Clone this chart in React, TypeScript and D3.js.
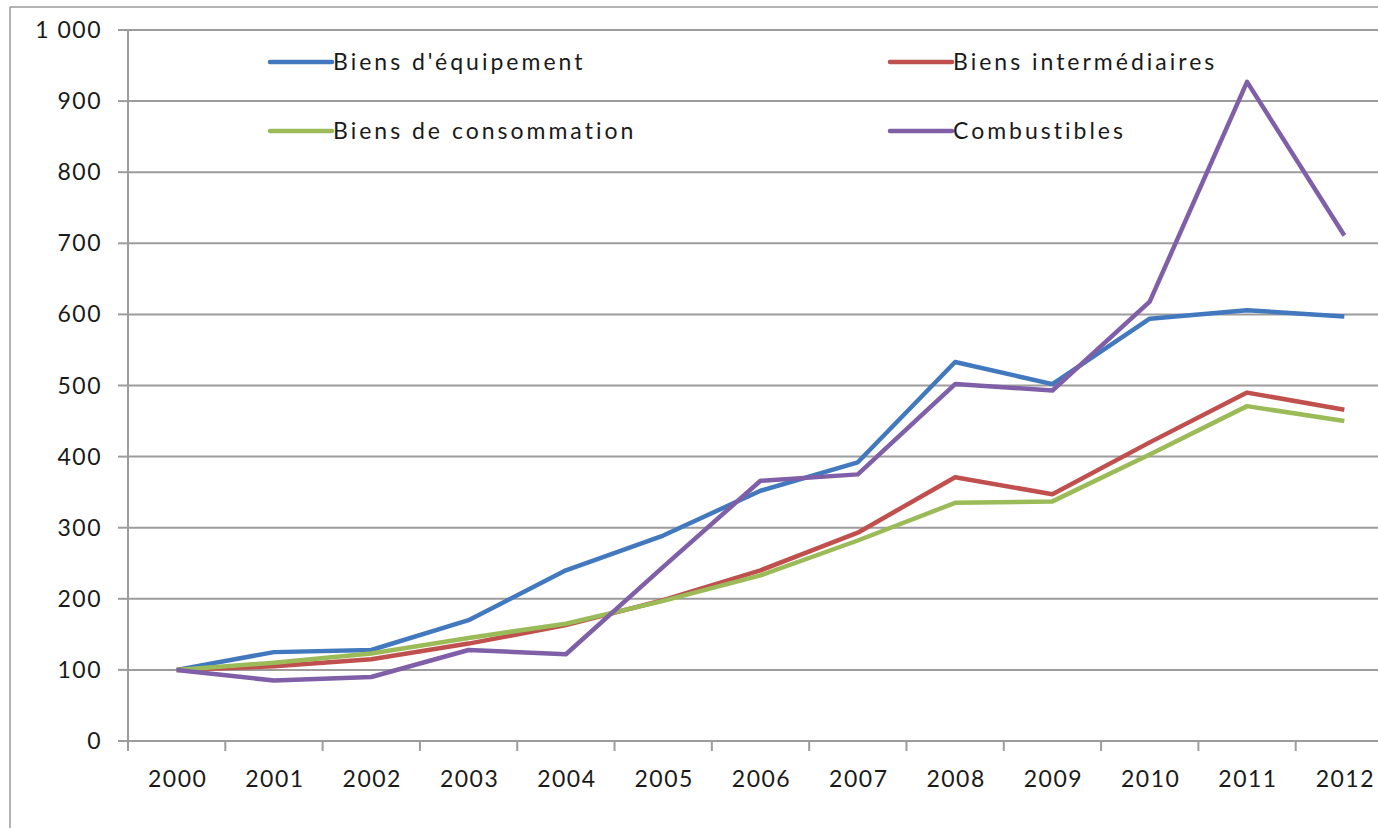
import React from 'react'
import * as d3 from 'd3'

const years = ['2000', '2001', '2002', '2003', '2004', '2005', '2006', '2007', '2008', '2009', '2010', '2011', '2012']
const equipement = [100, 125, 128, 170, 240, 289, 352, 392, 533, 502, 594, 606, 597]
const intermediaires = [100, 105, 115, 137, 163, 198, 240, 293, 371, 347, 420, 490, 466]
const consommation = [100, 110, 123, 145, 165, 197, 233, 282, 335, 337, 403, 471, 450]
const combustibles = [100, 85, 90, 128, 122, 245, 366, 375, 502, 493, 618, 927, 711]
const yTicks = [0, 100, 200, 300, 400, 500, 600, 700, 800, 900, 1000]

const seriesNames = ["Biens d'équipement", 'Biens intermédiaires', 'Biens de consommation', 'Combustibles']
const seriesColors = ['#4279be', '#c0504d', '#9bbb59', '#7f5fa8']

const width = 1378
const height = 828
const margin = { top: 30, left: 128, bottom: 87, right: -15 }
const font = 'Lato, "Open Sans", sans-serif'

export default function App() {
  const xScale = d3.scaleBand().domain(years).range([margin.left, width - margin.right])
  const yScale = d3.scaleLinear().domain([0, 1000]).range([height - margin.bottom, margin.top])
  const allSeries = [equipement, intermediaires, consommation, combustibles]

  const line = d3.line<number>()
    .x((d, i) => (xScale(years[i]) as number) + xScale.bandwidth() / 2)
    .y(d => yScale(d))

  const bottom = yScale(0)
  const fmt = (v: number) => (v >= 1000 ? d3.format(',')(v).replace(',', ' ') : String(v))

  // legend placement: two columns, two rows
  const legendPos = [
    { x: 270, y: 62 },
    { x: 890, y: 62 },
    { x: 270, y: 131 },
    { x: 890, y: 131 },
  ]

  return (
    <svg width={width} height={height} style={{ position: 'absolute', left: 0, top: 0, background: '#fff' }}>
      {/* chart frame */}
      <line x1={10} x2={10} y1={7} y2={height} stroke="#9a9a9a" strokeWidth={1.5} />
      <line x1={10} x2={width} y1={7} y2={7} stroke="#9a9a9a" strokeWidth={1.5} />

      {/* gridlines */}
      {yTicks.map(t => (
        <g key={t}>
          {t > 0 && <line x1={margin.left} x2={width} y1={yScale(t)} y2={yScale(t)} stroke="#9c9c9c" strokeWidth={2} />}
          <line x1={margin.left - 10} x2={margin.left} y1={yScale(t)} y2={yScale(t)} stroke="#9c9c9c" strokeWidth={2} />
          <text x={102} y={yScale(t)} dy="0.35em" textAnchor="end" fontFamily={font} fontSize={23} fill="#1a1a1a" letterSpacing={1.5}>
            {fmt(t)}
          </text>
        </g>
      ))}

      {/* axes */}
      <line x1={margin.left} x2={margin.left} y1={margin.top} y2={bottom + 10} stroke="#9c9c9c" strokeWidth={2} />
      <line x1={margin.left} x2={width} y1={bottom} y2={bottom} stroke="#9c9c9c" strokeWidth={2} />
      {years.map(y => (
        <g key={y}>
          <line x1={xScale(y)} x2={xScale(y)} y1={bottom} y2={bottom + 10} stroke="#9c9c9c" strokeWidth={2} />
          <text x={(xScale(y) as number) + xScale.bandwidth() / 2 + 1} y={779} dy="0.35em" textAnchor="middle"
            fontFamily={font} fontSize={23} fill="#1a1a1a" letterSpacing={1.5}>{y}</text>
        </g>
      ))}

      {/* series */}
      {allSeries.map((s, i) => (
        <path key={seriesNames[i]} d={line(s) || ''} fill="none" stroke={seriesColors[i]} strokeWidth={4.5} strokeLinejoin="round" />
      ))}

      {/* legend */}
      {seriesNames.map((name, i) => (
        <g key={name}>
          <line x1={legendPos[i].x} x2={legendPos[i].x + 62} y1={legendPos[i].y} y2={legendPos[i].y}
            stroke={seriesColors[i]} strokeWidth={4.5} strokeLinecap="round" />
          <text x={legendPos[i].x + 63} y={legendPos[i].y} dy="0.35em" fontFamily={font} fontSize={23} fill="#1a1a1a" letterSpacing={3}>
            {name}
          </text>
        </g>
      ))}
    </svg>
  )
}
